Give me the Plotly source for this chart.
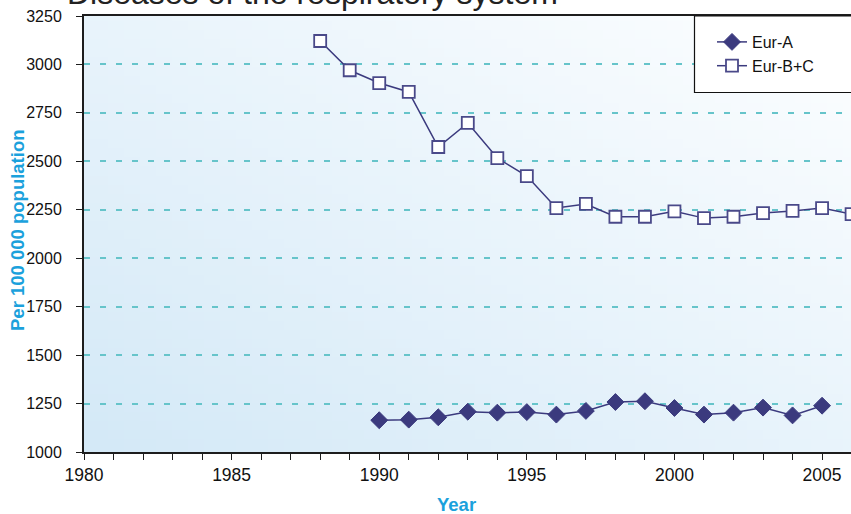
import base64
import struct
import zlib

import plotly.graph_objects as go

# Mortality rates per 100 000 population
years_a = list(range(1990, 2006))
eur_a = [1164, 1167, 1179, 1208, 1203, 1206, 1193, 1212, 1258, 1262,
         1227, 1193, 1203, 1229, 1189, 1239]

years_bc = list(range(1988, 2007))
eur_bc = [3121, 2970, 2904, 2858, 2574, 2698, 2517, 2424, 2259, 2280,
          2214, 2214, 2242, 2207, 2214, 2233, 2244, 2259, 2228]

y_ticks = [1000, 1250, 1500, 1750, 2000, 2250, 2500, 2750, 3000, 3250]
x_ticks = [1980, 1985, 1990, 1995, 2000, 2005]

W, H = 851, 514
L, R, T, B = 84, 0, 16, 62
plot_w = W - L - R
plot_h = H - T - B


def gradient_png(w, h, c0, c1):
    """Diagonal gradient: c0 at bottom-left, c1 at top-right."""
    raw = bytearray()
    for j in range(h):
        raw.append(0)
        v = j / (h - 1)
        for i in range(w):
            u = i / (w - 1)
            t = (u + (1 - v)) / 2
            for k in range(3):
                raw.append(int(round(c0[k] + (c1[k] - c0[k]) * t)))

    def chunk(tag, data):
        c = struct.pack(">I", len(data)) + tag + data
        return c + struct.pack(">I", zlib.crc32(tag + data) & 0xFFFFFFFF)

    png = b"\x89PNG\r\n\x1a\n"
    png += chunk(b"IHDR", struct.pack(">IIBBBBB", w, h, 8, 2, 0, 0, 0))
    png += chunk(b"IDAT", zlib.compress(bytes(raw), 9))
    png += chunk(b"IEND", b"")
    return "data:image/png;base64," + base64.b64encode(png).decode()


bg = gradient_png(48, 48, (212, 233, 247), (253, 254, 255))

navy = "#3b3a7e"
axis_col = "#1d1d1d"
blue_title = "#1ba1dc"
font_fam = "Liberation Sans, Arial, sans-serif"


def px_x(p):
    return (p - L) / plot_w


def px_y(p):
    return 1 - (p - T) / plot_h


fig = go.Figure()

fig.add_trace(go.Scatter(
    x=years_a, y=eur_a, name="Eur-A", mode="lines+markers",
    line=dict(color=navy, width=1.5),
    marker=dict(symbol="diamond", size=13, color=navy,
                line=dict(color=navy, width=1)),
))
fig.add_trace(go.Scatter(
    x=years_bc, y=eur_bc, name="Eur-B+C", mode="lines+markers",
    line=dict(color=navy, width=1.5),
    marker=dict(symbol="square", size=12, color="white",
                line=dict(color="#4a4989", width=1.8)),
))

fig.update_layout(
    width=W, height=H,
    margin=dict(l=L, r=R, t=T, b=B, pad=0),
    paper_bgcolor="white",
    plot_bgcolor="rgba(0,0,0,0)",
    font=dict(family=font_fam, size=16, color="#111"),
    showlegend=True,
    legend=dict(
        x=px_x(712), y=px_y(25), xanchor="left", yanchor="top",
        bgcolor="rgba(0,0,0,0)", borderwidth=0,
        font=dict(family=font_fam, size=16, color="#111"),
        itemsizing="trace", tracegroupgap=0,
    ),
    images=[dict(
        source=bg, xref="paper", yref="paper", x=0, y=1,
        sizex=1, sizey=1, sizing="stretch", layer="below",
        xanchor="left", yanchor="top",
    )],
    xaxis=dict(
        range=[1980, 2005.98], tickvals=x_ticks,
        ticks="outside", ticklen=6, tickwidth=1, tickcolor=axis_col,
        minor=dict(dtick=1, tick0=1980, ticks="outside", ticklen=6,
                   tickcolor=axis_col, tickwidth=1, showgrid=False),
        showgrid=False, zeroline=False,
        showline=True, linecolor=axis_col, linewidth=2, mirror=True,
        tickfont=dict(size=17.5, color="#111"),
    ),
    yaxis=dict(
        range=[1000, 3250], tickvals=y_ticks,
        ticks="outside", ticklen=6, tickwidth=1, tickcolor=axis_col,
        showgrid=True, gridcolor="#66c4ca", gridwidth=1.5,
        griddash="6px,10px", zeroline=False,
        showline=True, linecolor=axis_col, linewidth=2,
        tickfont=dict(size=16, color="#111"),
        ticklabelstandoff=11,
    ),
    shapes=[dict(
        type="rect", xref="paper", yref="paper",
        x0=px_x(694.5), x1=px_x(900), y0=px_y(92.5), y1=px_y(16),
        line=dict(color="#111", width=1.2), fillcolor="white", layer="above",
    )],
    annotations=[
        dict(text="Diseases of the respiratory system",
             xref="paper", yref="paper", x=px_x(560), y=1 + (T - 13) / plot_h,
             xanchor="right", yanchor="bottom", showarrow=False,
             font=dict(family=font_fam, size=32, color="#222")),
        dict(text="<b>Per 100 000 population</b>",
             xref="paper", yref="paper", x=px_x(17), y=px_y(230),
             xanchor="center", yanchor="middle", textangle=-90,
             showarrow=False,
             font=dict(family=font_fam, size=18.5, color=blue_title)),
        dict(text="<b>Year</b>",
             xref="paper", yref="paper", x=px_x(456), y=px_y(504),
             xanchor="center", yanchor="middle", showarrow=False,
             font=dict(family=font_fam, size=18.5, color=blue_title)),
    ],
)

fig.write_html("out.html")
